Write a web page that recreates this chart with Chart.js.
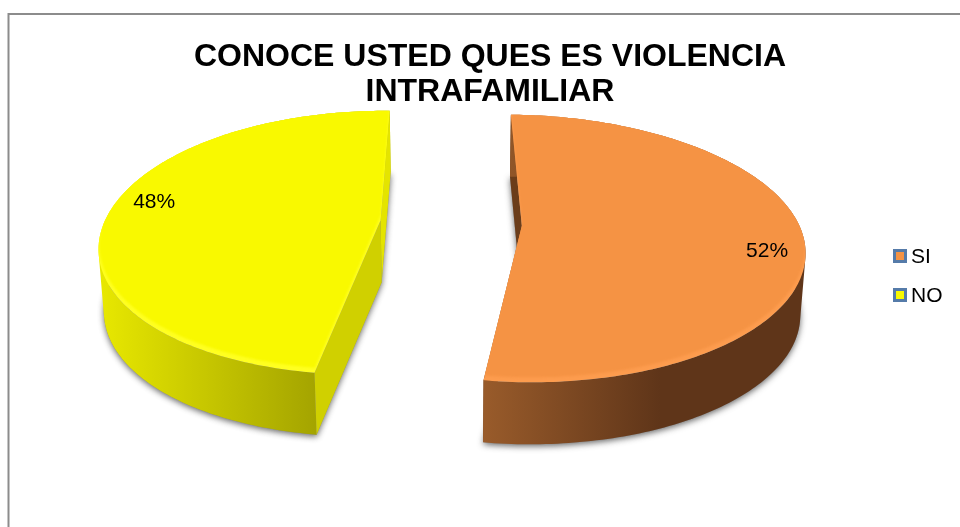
<!DOCTYPE html>
<html>
<head>
<meta charset="utf-8">
<style>html,body{margin:0;padding:0;background:#fff}canvas{display:block}</style>
<script src="https://cdn.jsdelivr.net/npm/chart.js@4"></script>
</head>
<body>
<canvas id="c" width="960" height="527"></canvas>
<script>
const categories = ['SI', 'NO'];
const percentages = [52, 48];
const sliceColors = ['#f59344', '#f9f900'];
const titleLines = ['CONOCE USTED QUES ES VIOLENCIA', 'INTRAFAMILIAR'];

const FONT = '"Liberation Sans", Arial, sans-serif';
// Perspective view of the pie plane
const VIEW = {cx: 451, cy: 223, ax: 276.5, ay: 129, persp: 0.17, bend: 5, depth: 62, shrink: 0.985};
const LOOK = [
  {rim: '#fd9c4e', sideA: '#9a5c2b', sideB: '#5f3519', cut: '#6b3d1a', cutBack: '#6b3d1a', x0: 480, x1: 660, cutsFirst: true},
  {rim: '#ffff20', sideA: '#e8e800', sideB: '#a2a200', cut: '#d0d000', cutBack: '#e4e400', x0: 100, x1: 322, cutsFirst: false}
];

function project(u, v) {
  const w = 1 - VIEW.persp * v;
  return {x: VIEW.cx + VIEW.ax * u / w - VIEW.bend * v * v, y: VIEW.cy + VIEW.ay * v / w};
}
function lower(p) {
  return {x: VIEW.cx + (p.x - VIEW.cx) * VIEW.shrink, y: p.y + VIEW.depth};
}
function poly(ctx, pts) {
  ctx.beginPath();
  pts.forEach((p, i) => i ? ctx.lineTo(p.x, p.y) : ctx.moveTo(p.x, p.y));
  ctx.closePath();
}
function sliceGeometry(arc, scale) {
  const o = arc.options.offset / arc.outerRadius;
  const mid = (arc.startAngle + arc.endAngle) / 2;
  const ou = o * Math.cos(mid), ov = o * Math.sin(mid);
  const steps = Math.ceil((arc.endAngle - arc.startAngle) / (Math.PI / 180));
  const rim = [];
  for (let i = 0; i <= steps; i++) {
    const a = arc.startAngle + (arc.endAngle - arc.startAngle) * i / steps;
    rim.push(project(scale * Math.cos(a) + ou, scale * Math.sin(a) + ov));
  }
  return {rim, apex: project(ou, ov), ou, ov, mid};
}
function sidePath(ctx, rim, low) {
  ctx.beginPath();
  for (let i = 0; i < rim.length - 1; i++) {
    let q = [rim[i], rim[i + 1], low[i + 1], low[i]];
    let area = 0;
    q.forEach((p, k) => { const n = q[(k + 1) % 4]; area += p.x * n.y - n.x * p.y; });
    if (area < 0) q = q.reverse();
    q.forEach((p, k) => k ? ctx.lineTo(p.x, p.y) : ctx.moveTo(p.x, p.y));
    ctx.closePath();
  }
}

const pie3d = {
  id: 'pie3d',
  beforeDraw(chart) {
    const ctx = chart.ctx;
    ctx.save();
    ctx.fillStyle = '#fff';
    ctx.fillRect(0, 0, chart.width, chart.height);
    ctx.strokeStyle = '#8c8c8c';
    ctx.lineWidth = 2;
    ctx.beginPath();
    ctx.moveTo(chart.width + 2, 14);
    ctx.lineTo(8.5, 14);
    ctx.lineTo(8.5, chart.height + 2);
    ctx.stroke();
    ctx.restore();
  },
  beforeDatasetDraw() { return false; },
  afterDatasetsDraw(chart) {
    const ctx = chart.ctx;
    const arcs = chart.getDatasetMeta(0).data;
    ctx.save();
    arcs.forEach((arc, idx) => {
      const look = LOOK[idx];
      const g = sliceGeometry(arc, 1);
      const low = g.rim.map(lower);
      const lowApex = lower(g.apex);
      // soft shadow under the lower face
      ctx.save();
      ctx.shadowColor = 'rgba(40,40,40,0.7)';
      ctx.shadowBlur = 6;
      ctx.shadowOffsetY = 2;
      ctx.fillStyle = '#888';
      poly(ctx, [lowApex, ...low]);
      ctx.fill();
      ctx.restore();
      const last = g.rim.length - 1;
      const drawCuts = () => {
        const backIdx = idx === 0 ? 0 : last;
        const frontIdx = idx === 0 ? last : 0;
        ctx.fillStyle = look.cutBack;
        poly(ctx, [g.rim[backIdx], low[backIdx], lowApex, g.apex]);
        ctx.fill();
        ctx.fillStyle = look.cut;
        poly(ctx, [g.rim[frontIdx], low[frontIdx], lowApex, g.apex]);
        ctx.fill();
      };
      const drawSide = () => {
        const grad = ctx.createLinearGradient(look.x0, 0, look.x1, 0);
        grad.addColorStop(0, look.sideA);
        grad.addColorStop(1, look.sideB);
        ctx.fillStyle = grad;
        sidePath(ctx, g.rim, low);
        ctx.fill();
      };
      if (look.cutsFirst) { drawCuts(); drawSide(); } else { drawSide(); drawCuts(); }
      // top face: a lighter bevel shows along the front edge only
      const top = [g.apex, ...g.rim];
      ctx.fillStyle = look.rim;
      poly(ctx, top);
      ctx.fill();
      ctx.save();
      poly(ctx, top);
      ctx.clip();
      ctx.filter = 'blur(1px)';
      ctx.fillStyle = sliceColors[idx];
      poly(ctx, top.map(p => ({x: VIEW.cx + (p.x - VIEW.cx) * 0.998, y: p.y - 5})));
      ctx.fill();
      ctx.restore();
    });
    // percentage labels
    ctx.fillStyle = '#000';
    ctx.font = '21px ' + FONT;
    ctx.textAlign = 'center';
    ctx.textBaseline = 'middle';
    arcs.forEach((arc, idx) => {
      const g = sliceGeometry(arc, 1);
      const a = g.mid + 6.5 * Math.PI / 180;
      const p = project(0.868 * Math.cos(a) + g.ou, 0.868 * Math.sin(a) + g.ov);
      ctx.fillText(percentages[idx] + '%', p.x, p.y + 3);
    });
    // legend
    const rows = [256, 295];
    ctx.textAlign = 'left';
    categories.forEach((name, idx) => {
      const y = rows[idx];
      ctx.fillStyle = '#557ba9';
      ctx.fillRect(893, y - 7, 14, 14);
      ctx.fillStyle = sliceColors[idx];
      ctx.fillRect(896, y - 4, 8, 8);
      ctx.fillStyle = '#000';
      ctx.fillText(name, 911, y + 1);
    });
    ctx.restore();
  }
};

new Chart(document.getElementById('c'), {
  type: 'pie',
  data: {
    labels: categories,
    datasets: [{
      data: percentages,
      backgroundColor: sliceColors,
      borderWidth: 0,
      offset: 47
    }]
  },
  options: {
    responsive: false,
    animation: false,
    rotation: 1,
    layout: {padding: {left: 20}},
    plugins: {
      legend: {display: false},
      tooltip: {enabled: false},
      title: {
        display: true,
        text: titleLines,
        color: '#000',
        font: {family: FONT, size: 32, weight: 'bold', lineHeight: 1.08},
        padding: {top: 40, bottom: 4}
      }
    }
  },
  plugins: [pie3d]
});
</script>
</body>
</html>
